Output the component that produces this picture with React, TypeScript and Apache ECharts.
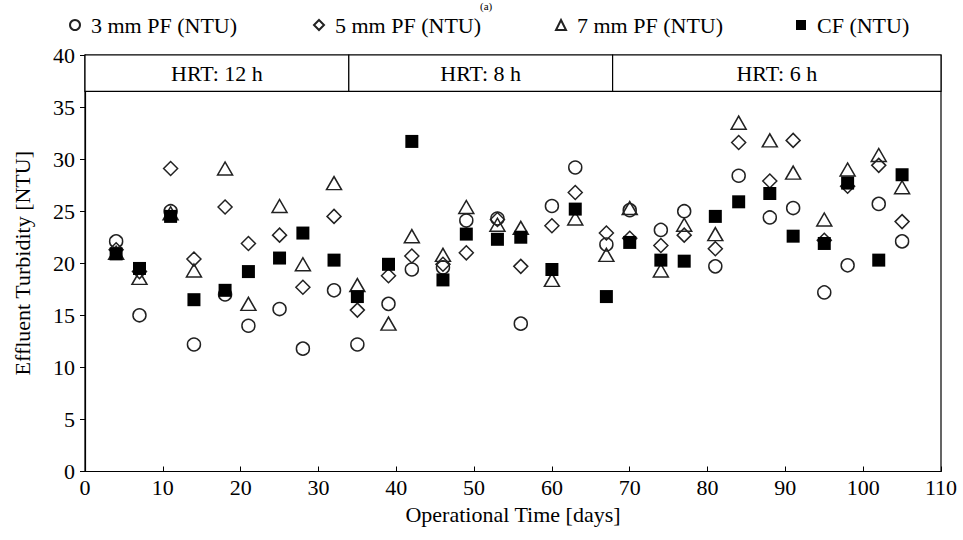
import React, { useEffect, useRef } from "react";
import * as echarts from "echarts";

const days = [4, 7, 11, 14, 18, 21, 25, 28, 32, 35, 39, 42, 46, 49, 53, 56, 60, 63, 67, 70, 74, 77, 81, 84, 88, 91, 95, 98, 102, 105];
const pf3 = [22.1, 15.0, 25.0, 12.2, 17.0, 14.0, 15.6, 11.8, 17.4, 12.2, 16.1, 19.4, 19.6, 24.1, 24.3, 14.2, 25.5, 29.2, 21.8, 25.1, 23.2, 25.0, 19.7, 28.4, 24.4, 25.3, 17.2, 19.8, 25.7, 22.1];
const pf5 = [21.3, 19.2, 29.1, 20.4, 25.4, 21.9, 22.7, 17.7, 24.5, 15.5, 18.8, 20.7, 19.9, 21.0, 24.2, 19.7, 23.6, 26.8, 22.9, 22.4, 21.7, 22.7, 21.4, 31.6, 27.9, 31.8, 22.2, 27.4, 29.4, 24.0];
const pf7 = [21.0, 18.6, 24.8, 19.3, 29.1, 16.1, 25.5, 19.9, 27.7, 17.9, 14.2, 22.6, 20.8, 25.4, 23.7, 23.4, 18.4, 24.3, 20.8, 25.3, 19.3, 23.7, 22.8, 33.5, 31.8, 28.7, 24.2, 29.0, 30.4, 27.3];
const cf = [20.9, 19.5, 24.5, 16.5, 17.4, 19.2, 20.5, 22.9, 20.3, 16.8, 19.9, 31.7, 18.4, 22.8, 22.3, 22.5, 19.4, 25.2, 16.8, 22.0, 20.3, 20.2, 24.5, 25.9, 26.7, 22.6, 21.9, 27.7, 20.3, 28.5];

const seriesNames = ["3 mm PF (NTU)", "5 mm PF (NTU)", "7 mm PF (NTU)", "CF (NTU)"];
const hrtLabels = ["HRT: 12 h", "HRT: 8 h", "HRT: 6 h"];
const hrtBounds = [0, 33.9, 67.8, 110];
const headerRange = [36.5, 40];

const FONT = "Liberation Serif";
const FS = 22;

export default function App() {
  const ref = useRef<HTMLDivElement>(null);
  useEffect(() => {
    if (!ref.current) return;
    const chart = echarts.init(ref.current, null, { renderer: "svg" });
    const pair = (vals: number[]) => days.map((d, i) => [d, vals[i]]);
    const hollow = {
      color: "rgba(0,0,0,0)",
      borderColor: "#222",
      borderWidth: 1.5,
      opacity: 1,
    };
    const markData = hrtLabels.map((name, i) => [
      { name, xAxis: hrtBounds[i], yAxis: headerRange[0] },
      { xAxis: hrtBounds[i + 1], yAxis: headerRange[1] },
    ]);
    const legendLefts = [64, 308, 550, 791];
    const icons = ["circle", "diamond", "triangle", "rect"];
    chart.setOption({
      animation: false,
      textStyle: { fontFamily: FONT, color: "#000" },
      grid: { left: 85, right: 22, top: 55, bottom: 68.5, show: true, borderColor: "#000", borderWidth: 1.2, backgroundColor: "transparent" },
      legend: seriesNames.map((n, i) => ({
        data: [{ name: n, icon: icons[i] }],
        left: legendLefts[i],
        top: 9,
        itemWidth: 10,
        itemHeight: 10,
        itemGap: 6,
        textStyle: { fontFamily: FONT, fontSize: FS, color: "#000", padding: [0, 0, 0, 6] },
      })),
      graphic: [
        {
          type: "text",
          left: 480,
          top: 0,
          style: { text: "(a)", font: `11px ${FONT}`, fill: "#000" },
        },
      ],
      xAxis: {
        type: "value",
        min: 0,
        max: 110,
        interval: 10,
        name: "Operational Time [days]",
        nameLocation: "middle",
        nameGap: 23,
        nameTextStyle: { fontFamily: FONT, fontSize: FS, color: "#000" },
        axisLine: { lineStyle: { color: "#000", width: 1.2 } },
        axisTick: { inside: true, length: 5, lineStyle: { color: "#000" } },
        axisLabel: { fontFamily: FONT, fontSize: FS, color: "#000", margin: 5 },
        splitLine: { show: false },
      },
      yAxis: {
        type: "value",
        min: 0,
        max: 40,
        interval: 5,
        name: "Effluent Turbidity [NTU]",
        nameLocation: "middle",
        nameGap: 52,
        nameTextStyle: { fontFamily: FONT, fontSize: FS, color: "#000" },
        axisLine: { show: true, lineStyle: { color: "#000", width: 1.2 } },
        axisTick: { show: true, inside: false, length: 5, lineStyle: { color: "#000" } },
        axisLabel: { fontFamily: FONT, fontSize: FS, color: "#000", margin: 10 },
        splitLine: { show: false },
      },
      series: [
        {
          name: seriesNames[0],
          type: "scatter",
          symbol: "circle",
          symbolSize: 13,
          itemStyle: hollow,
          data: pair(pf3),
          markArea: {
            silent: true,
            itemStyle: { color: "#fff", borderColor: "#000", borderWidth: 1.2, opacity: 1 },
            label: { show: true, position: "inside", fontFamily: FONT, fontSize: FS, color: "#000" },
            data: markData,
          },
        },
        { name: seriesNames[1], type: "scatter", symbol: "diamond", symbolSize: [14, 14], itemStyle: hollow, data: pair(pf5) },
        { name: seriesNames[2], type: "scatter", symbol: "triangle", symbolSize: [15, 13], itemStyle: hollow, data: pair(pf7) },
        { name: seriesNames[3], type: "scatter", symbol: "rect", symbolSize: 13, itemStyle: { color: "#000", opacity: 1 }, data: pair(cf) },
      ],
    });
    return () => chart.dispose();
  }, []);
  return <div ref={ref} style={{ position: "absolute", left: 0, top: 0, width: 963, height: 540 }} />;
}
